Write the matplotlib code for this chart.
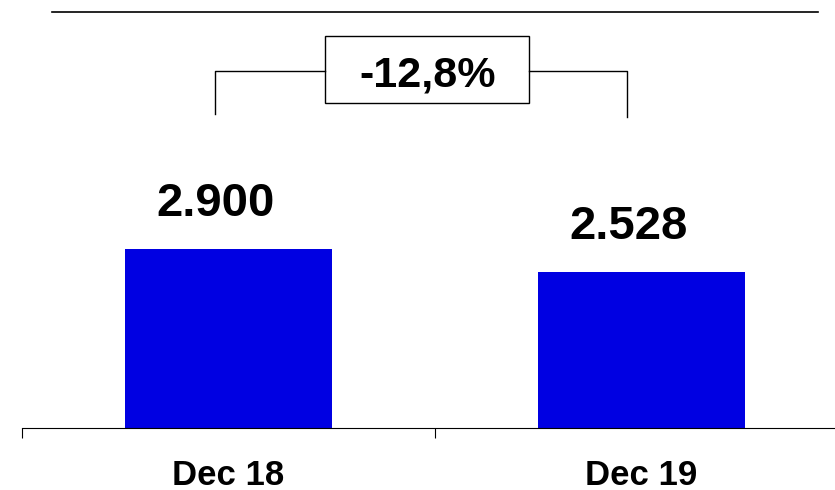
import matplotlib
matplotlib.use("Agg")
import matplotlib.pyplot as plt
from matplotlib.patches import Rectangle

categories = ["Dec 18", "Dec 19"]
values = [2900, 2528]
value_labels = ["2.900", "2.528"]
change_label = "-12,8%"

plt.rcParams['font.family'] = ['Liberation Sans', 'DejaVu Sans']

fig = plt.figure(figsize=(8.35, 4.9), dpi=100)
# axes runs a bit past the right edge, like the original slide
ax = fig.add_axes([22/835, 62/490, 826/835, 428/490])

xs = list(range(len(categories)))
ax.bar(xs, values, width=0.5, color='#0000E2', zorder=2)

ax.set_xlim(-0.5, 1.5)
ax.set_ylim(0, 6935)

for side in ['top', 'right', 'left']:
    ax.spines[side].set_visible(False)
ax.spines['bottom'].set_linewidth(0.8)
ax.set_yticks([])

ax.set_xticks(xs)
ax.set_xticklabels(categories, fontsize=25, fontweight='bold')
ax.tick_params(axis='x', which='major', length=0, pad=22)
ax.set_xticks([-0.5, 0.5, 1.5], minor=True)
ax.tick_params(axis='x', which='minor', length=7, width=0.8, direction='out')

# value labels above bars
for x, v, lab in zip(xs, values, value_labels):
    ax.annotate(lab, xy=(x, v), xytext=(-9.5, 24), textcoords='offset points',
                ha='center', va='baseline', fontsize=34, fontweight='bold')

# change bracket with box
tr = ax.get_xaxis_transform()
lx = xs[0] - 0.033
rx = xs[1] - 0.035
ax.plot([lx, lx, 0.234], [0.734, 0.833, 0.833], color='black', lw=1.0,
        transform=tr, clip_on=False)
ax.plot([0.728, rx, rx], [0.833, 0.833, 0.727], color='black', lw=1.0,
        transform=tr, clip_on=False)
ax.add_patch(Rectangle((0.234, 0.759), 0.494, 0.157, transform=tr,
                       facecolor='white', edgecolor='black', lw=1.0,
                       clip_on=False))
ax.text(0.483, 0.834, change_label, transform=tr, ha='center',
        va='center_baseline', fontsize=31, fontweight='bold')

# top rule line
ax.plot([-0.427, 1.427], [0.971, 0.971], color='black', lw=1.2,
        transform=tr, clip_on=False)

fig.savefig("out.png", dpi=100)
